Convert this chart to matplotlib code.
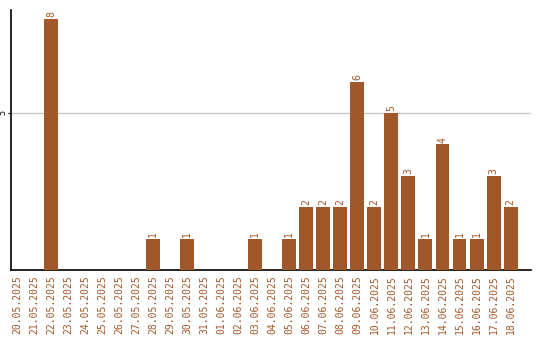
import matplotlib
matplotlib.use("Agg")
import matplotlib.pyplot as plt

dates = ["20.05.2025", "21.05.2025", "22.05.2025", "23.05.2025", "24.05.2025",
         "25.05.2025", "26.05.2025", "27.05.2025", "28.05.2025", "29.05.2025",
         "30.05.2025", "31.05.2025", "01.06.2025", "02.06.2025", "03.06.2025",
         "04.06.2025", "05.06.2025", "06.06.2025", "07.06.2025", "08.06.2025",
         "09.06.2025", "10.06.2025", "11.06.2025", "12.06.2025", "13.06.2025",
         "14.06.2025", "15.06.2025", "16.06.2025", "17.06.2025", "18.06.2025"]
counts = [0, 0, 8, 0, 0, 0, 0, 0, 1, 0,
          1, 0, 0, 0, 1, 0, 1, 2, 2, 2,
          6, 2, 5, 3, 1, 4, 1, 1, 3, 2]

bar_color = "#A0572A"
plt.rcParams['font.family'] = ['DejaVu Sans Mono', 'DejaVu Sans']

fig = plt.figure(figsize=(5.4, 3.4), dpi=100)
ax = fig.add_axes([11/540, 70/340, 520/540, 260/340])

x = list(range(len(dates)))
ax.bar(x, counts, width=0.82, color=bar_color, zorder=3)

for i, v in enumerate(counts):
    if v > 0:
        ax.text(i, v + 0.06, str(v), rotation=90, ha="center", va="bottom",
                fontsize=7, color=bar_color)

ax.set_xlim(-0.35, 30.2)
ax.set_ylim(0, 8.28)
ax.set_yticks([5])
ax.set_yticklabels(["5"], rotation=90, va="center", fontsize=6)
ax.set_xticks(x)
ax.set_xticklabels(dates, rotation=90, fontsize=7, color=bar_color)
ax.tick_params(axis="x", length=0, pad=4)
ax.tick_params(axis="y", length=2, pad=0.5)
ax.grid(axis="y", color="#c8c8c8", linewidth=1, zorder=0)

for s in ["top", "right"]:
    ax.spines[s].set_visible(False)
ax.spines["left"].set_linewidth(1.2)
ax.spines["bottom"].set_linewidth(1.2)

fig.savefig("out.png", dpi=100)
